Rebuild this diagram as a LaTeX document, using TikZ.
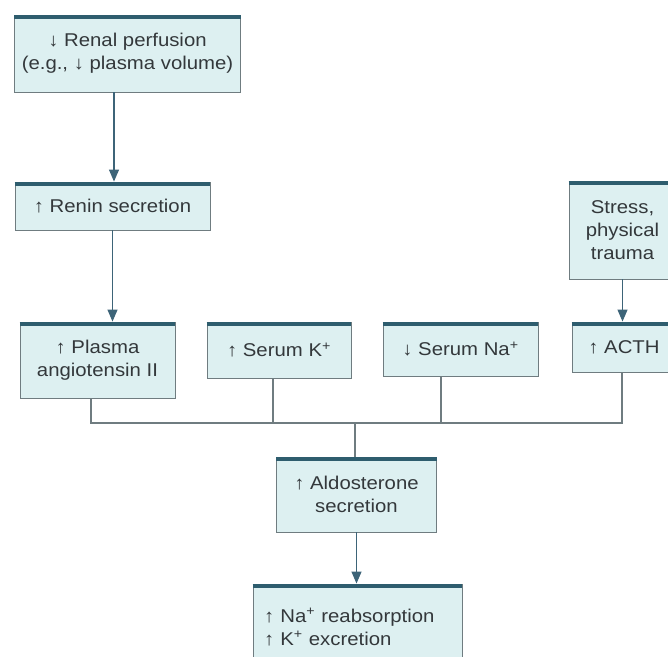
\documentclass[tikz,border=0pt]{standalone}
\usepackage{fontspec}
\setmainfont{Liberation Sans}[FakeStretch=1.1]
\usetikzlibrary{arrows.meta}
\definecolor{boxfill}{HTML}{DDF0F1}
\definecolor{boxline}{HTML}{6F7C80}
\definecolor{barcol}{HTML}{2E5D6E}
\definecolor{arrcol}{HTML}{3D6478}
\definecolor{txtcol}{HTML}{33383B}
\tikzset{
  box/.style={draw=boxline, line width=0.9pt, fill=boxfill, inner sep=0pt, align=center,
    text=txtcol, font=\fontsize{18.5}{23}\selectfont},
  bar/.style={draw=barcol, line width=4pt},
  arr/.style={draw=arrcol, line width=1.2pt, -{Triangle[width=10pt,length=12pt]}},
  conn/.style={draw=boxline, line width=1.1pt},
}
\newcommand{\boxbar}[1]{\draw[bar] ([yshift=-2pt]#1.north west) -- ([yshift=-2pt]#1.north east);}
\begin{document}
\begin{tikzpicture}[x=1pt,y=-1pt]
\useasboundingbox (0,0) rectangle (668,656);
\node[box, minimum width=226pt, minimum height=77pt] (top) at (127.5,53.5)
  {↓ Renal perfusion\\(e.g., ↓ plasma volume)};
\node[box, minimum width=195pt, minimum height=48pt] (renin) at (112.5,206)
  {↑ Renin secretion};
\node[box, minimum width=107pt, minimum height=98pt] (stress) at (622.5,230)
  {Stress,\\physical\\trauma};
\node[box, minimum width=155pt, minimum height=76pt] (plasma) at (97.5,360)
  {↑ Plasma\\angiotensin II};
\node[box, minimum width=144pt, minimum height=56pt] (serk) at (279,350)
  {↑ Serum K\textsuperscript{+}};
\node[box, minimum width=155pt, minimum height=54pt] (serna) at (460.5,349)
  {↓ Serum Na\textsuperscript{+}};
\node[box, minimum width=104pt, minimum height=50pt] (acth) at (624,347)
  {↑ ACTH};
\node[box, minimum width=160pt, minimum height=75pt] (aldo) at (356.5,494.5)
  {↑ Aldosterone\\secretion};
\node[box, minimum width=209pt, minimum height=86pt, align=left, text width=187pt] (na) at (357.5,627)
  {↑ Na\textsuperscript{+} reabsorption\\↑ K\textsuperscript{+} excretion};
\foreach \n in {top,renin,stress,plasma,serk,serna,acth,aldo,na} {\boxbar{\n}}
% arrows
\draw[arr] ([xshift=1.5pt]top.south -| renin.north) -- ([xshift=1.5pt]renin.north);
\draw[arr] (renin.south) -- (renin.south |- plasma.north);
\draw[arr] (stress.south) -- (stress.south |- acth.north);
\coordinate (j) at (355,423);
\draw[conn] ([xshift=-6.5pt]plasma.south) |- (j);
\draw[conn] ([xshift=-6pt]serk.south) -- ([xshift=-6pt]serk.south |- j);
\draw[conn] ([xshift=-19.5pt]serna.south) -- ([xshift=-19.5pt]serna.south |- j);
\draw[conn] ([xshift=-2pt]acth.south) |- (j);
\draw[conn] (j) -- (j |- aldo.north);
\draw[arr] (aldo.south) -- (aldo.south |- na.north);
\end{tikzpicture}
\end{document}
